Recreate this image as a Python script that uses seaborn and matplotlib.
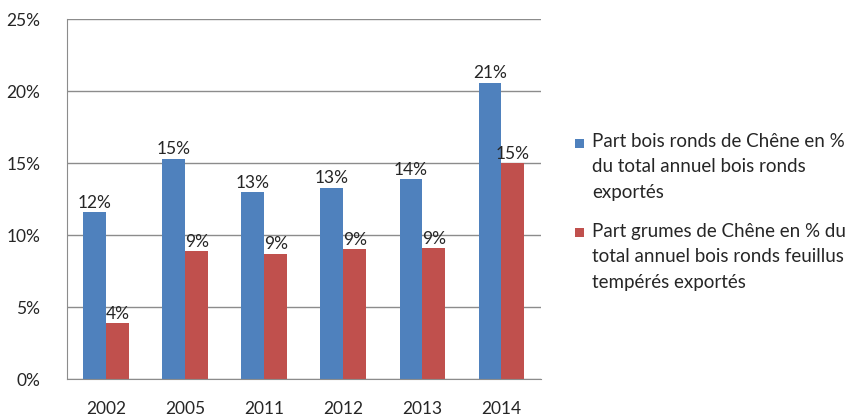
import pandas as pd
import matplotlib.pyplot as plt
import seaborn as sns
from matplotlib.patches import Rectangle

# values (in %)
years = ['2002', '2005', '2011', '2012', '2013', '2014']
share_round_wood = [11.6, 15.3, 13.0, 13.3, 13.9, 20.6]
share_oak_logs = [3.9, 8.9, 8.7, 9.0, 9.1, 15.0]
series_names = ['Part bois ronds de Chêne en %\ndu total annuel bois ronds\nexportés',
                'Part grumes de Chêne en % du\ntotal annuel bois ronds feuillus\ntempérés exportés']
colors = ['#4F81BD', '#C0504D']
y_ticks = [0, 5, 10, 15, 20, 25]

df = pd.DataFrame({
    'year': years * 2,
    'value': share_round_wood + share_oak_logs,
    'serie': [series_names[0]] * len(years) + [series_names[1]] * len(years),
})

sns.set_style('white')
plt.rcParams['font.family'] = ['Lato', 'DejaVu Sans']
txt_color = '#262626'
grid_color = '#8c8c8c'

fig = plt.figure(figsize=(8.56, 4.17), dpi=100)
ax = fig.add_axes([0.078, 0.091, 0.554, 0.863])

sns.barplot(data=df, x='year', y='value', hue='serie', palette=colors,
            width=0.58, saturation=1, linewidth=0, ax=ax, legend=False)

# data labels
for cont in ax.containers:
    ax.bar_label(cont, fmt=lambda v: f'{round(v)}%', padding=1, fontsize=12.5, color=txt_color)

ax.set_ylim(0, 25)
ax.set_yticks(y_ticks)
ax.set_yticklabels([f'{t}%' for t in y_ticks], fontsize=12.5, color=txt_color)
ax.tick_params(axis='x', labelsize=12.5, labelcolor=txt_color, pad=16, length=0)
ax.tick_params(axis='y', pad=19, length=0)
ax.set_xlabel('')
ax.set_ylabel('')
ax.grid(axis='y', color=grid_color, linewidth=1)
ax.set_axisbelow(True)
sns.despine(ax=ax, top=True, right=True)
ax.spines['left'].set_color(grid_color)
ax.spines['bottom'].set_color(grid_color)

# legend: square marker aligned with the first line of each label
legend_tops = [143, 233]
for name, col, ypx in zip(series_names, colors, legend_tops):
    yf = 1 - ypx / 417
    fig.patches.append(Rectangle((575 / 856, yf - 4.5 / 417), 9 / 856, 9 / 417,
                                 transform=fig.transFigure, facecolor=col, edgecolor='none'))
    fig.text(592 / 856, yf + 10 / 417, name, ha='left', va='top', fontsize=13.5,
             color=txt_color, linespacing=1.6)

plt.savefig('out.png', dpi=100)
